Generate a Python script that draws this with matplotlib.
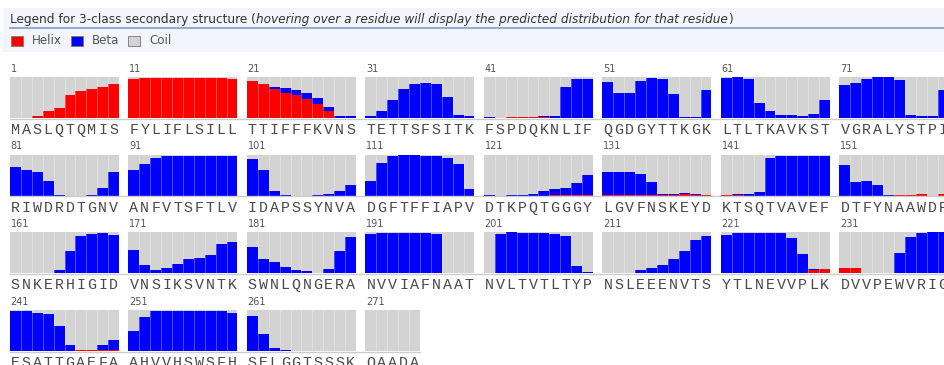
import matplotlib
matplotlib.use("Agg")
import matplotlib.pyplot as plt
from matplotlib.patches import Rectangle
from matplotlib.lines import Line2D

W, H = 945, 365

# sekwencja, 10 reszt na panel
sequence = ("MASLQTQMIS" "FYLIFLSILL" "TTIFFFKVNS" "TETTSFSITK"
            "FSPDQKNLIF" "QGDGYTTKGK" "LTLTKAVKST" "VGRALYSTPI"
            "RIWDRDTGNV" "ANFVTSFTLV" "IDAPSSYNVA" "DGFTFFIAPV"
            "DTKPQTGGGY" "LGVFNSKEYD" "KTSQTVAVEF" "DTFYNAAWDP"
            "SNKERHIGID" "VNSIKSVNTK" "SWNLQNGERA" "NVVIAFNAAT"
            "NVLTVTLTYP" "NSLEEENVTS" "YTLNEVVPLK" "DVVPEWVRIG"
            "ESATTGAEFA" "AHVVHSWSFH" "SELGGTSSSK" "QAADA")

helix = [
    0, 0.01, 0.04, 0.16, 0.24, 0.56, 0.66, 0.70, 0.75, 0.82,
    0.95, 0.97, 0.97, 0.97, 0.97, 0.97, 0.97, 0.97, 0.97, 0.95,
    0.90, 0.82, 0.70, 0.62, 0.56, 0.46, 0.34, 0.18, 0.01, 0,
    0.01, 0.01, 0.01, 0, 0, 0, 0, 0, 0, 0,
    0, 0, 0.03, 0.03, 0.02, 0.02, 0, 0, 0, 0,
    0, 0, 0, 0, 0, 0, 0, 0, 0, 0,
    0, 0, 0, 0, 0, 0, 0, 0, 0, 0,
    0, 0, 0, 0, 0, 0, 0, 0, 0, 0,
    0, 0, 0, 0, 0, 0, 0, 0, 0, 0,
    0, 0, 0, 0, 0, 0, 0, 0, 0, 0,
    0, 0, 0, 0, 0, 0, 0, 0, 0, 0,
    0, 0, 0, 0, 0, 0, 0, 0, 0, 0,
    0, 0, 0, 0, 0, 0, 0.01, 0.01, 0.02, 0.02,
    0.02, 0.02, 0.02, 0.02, 0.02, 0.02, 0.02, 0.04, 0.01, 0.01,
    0.02, 0.02, 0, 0, 0, 0, 0, 0, 0, 0,
    0, 0, 0, 0, 0, 0.02, 0.02, 0.03, 0, 0.03,
    0.02, 0.02, 0.01, 0, 0, 0, 0, 0, 0, 0,
    0, 0, 0, 0, 0, 0, 0, 0, 0, 0,
    0, 0, 0, 0.02, 0.02, 0.02, 0, 0, 0, 0,
    0, 0, 0, 0, 0, 0, 0, 0, 0, 0,
    0, 0, 0, 0, 0, 0, 0, 0, 0, 0,
    0.01, 0, 0, 0, 0, 0, 0, 0, 0, 0,
    0, 0, 0, 0, 0, 0, 0, 0, 0.08, 0.11,
    0.12, 0.12, 0, 0, 0, 0, 0, 0, 0, 0,
    0, 0, 0, 0, 0, 0, 0.03, 0.02, 0.02, 0.02,
    0, 0, 0, 0, 0, 0, 0, 0, 0, 0,
    0, 0, 0, 0, 0, 0, 0, 0, 0, 0,
    0, 0, 0, 0, 0,
]

beta = [
    0, 0, 0, 0, 0, 0, 0, 0, 0, 0,
    0, 0, 0, 0, 0, 0, 0, 0, 0, 0,
    0, 0, 0.05, 0.10, 0.13, 0.14, 0.14, 0.09, 0.03, 0.04,
    0.05, 0.17, 0.43, 0.70, 0.82, 0.85, 0.82, 0.52, 0.07, 0.04,
    0.02, 0, 0, 0, 0.01, 0.02, 0.05, 0.75, 0.95, 0.96,
    0.88, 0.60, 0.62, 0.91, 0.98, 0.94, 0.58, 0.02, 0.02, 0.68,
    0.97, 0.99, 0.96, 0.37, 0.16, 0.07, 0.07, 0.06, 0.10, 0.45,
    0.80, 0.86, 0.95, 0.99, 0.99, 0.93, 0.07, 0.04, 0.06, 0.69,
    0.70, 0.63, 0.58, 0.35, 0.02, 0, 0, 0.01, 0.18, 0.58,
    0.63, 0.78, 0.92, 0.98, 0.98, 0.98, 0.98, 0.98, 0.98, 0.98,
    0.89, 0.63, 0.12, 0.02, 0, 0, 0.01, 0.05, 0.12, 0.27,
    0.35, 0.80, 0.98, 0.99, 0.99, 0.98, 0.96, 0.92, 0.77, 0.17,
    0.02, 0, 0.02, 0.02, 0.04, 0.11, 0.15, 0.17, 0.28, 0.48,
    0.55, 0.57, 0.57, 0.52, 0.31, 0.03, 0.03, 0.02, 0.03, 0.01,
    0, 0.01, 0.03, 0.09, 0.92, 0.98, 0.98, 0.98, 0.98, 0.96,
    0.75, 0.33, 0.35, 0.27, 0.02, 0, 0, 0, 0, 0,
    0, 0, 0.01, 0.02, 0.08, 0.55, 0.91, 0.95, 0.98, 0.93,
    0.58, 0.20, 0.08, 0.13, 0.22, 0.35, 0.38, 0.46, 0.71, 0.76,
    0.64, 0.35, 0.28, 0.14, 0.06, 0.03, 0.02, 0.11, 0.54, 0.88,
    0.95, 0.98, 0.98, 0.98, 0.98, 0.99, 0.95, 0, 0, 0.01,
    0.01, 0.95, 1.0, 0.99, 0.99, 0.98, 0.96, 0.90, 0.19, 0.04,
    0, 0.01, 0.02, 0.08, 0.14, 0.20, 0.36, 0.54, 0.82, 0.90,
    0.94, 0.98, 0.98, 0.98, 0.98, 0.98, 0.86, 0.47, 0.02, 0,
    0, 0, 0.02, 0, 0.01, 0.50, 0.88, 0.98, 1.0, 1.0,
    0.98, 0.97, 0.94, 0.90, 0.62, 0.16, 0, 0, 0.14, 0.26,
    0.50, 0.84, 0.98, 0.98, 0.98, 0.98, 0.98, 0.98, 0.98, 0.94,
    0.86, 0.42, 0.08, 0.02, 0, 0, 0, 0, 0, 0,
    0, 0, 0, 0, 0,
]

legend_labels = ["Helix", "Beta", "Coil"]
colors = ["#ff0000", "#0000ff", "#d3d3d3"]


def fx(x):
    return x / W


def fy(y):
    return 1 - y / H


fig = plt.figure(figsize=(W / 100, H / 100), dpi=100)
fig.patch.set_facecolor("white")

# naglowek z legenda
fig.add_artist(Rectangle((fx(3), fy(52)), fx(945) - fx(3), 44 / H,
                         transform=fig.transFigure, facecolor="#f4f5fc",
                         edgecolor="none", zorder=0))
fig.add_artist(Line2D([fx(10), fx(945)], [fy(28), fy(28)],
                      transform=fig.transFigure, color="#7f9fc4", lw=1.2))

renderer = fig.canvas.get_renderer()
x = 10
for txt, style in [("Legend for 3-class secondary structure (", "normal"),
                   ("hovering over a residue will display the predicted "
                    "distribution for that residue", "italic"),
                   (")", "normal")]:
    t = fig.text(fx(x), fy(19.5), txt, fontsize=8.7, style=style,
                 family="DejaVu Sans", color="#333333", va="center")
    x = t.get_window_extent(renderer).x1

box_x = [11, 71, 128]
for bx, lab, col in zip(box_x, legend_labels, colors):
    fig.add_artist(Rectangle((fx(bx), fy(46)), 12 / W, 10 / H,
                             transform=fig.transFigure, facecolor=col,
                             edgecolor="#777777", lw=0.6))
    fig.text(fx(bx + 21), fy(40.5), lab, fontsize=8.6, family="DejaVu Sans",
             color="#555555", va="center")

# panele po 10 reszt
bar_px = 10.9
rows_end = {}
for k in range(0, len(sequence), 10):
    seg = sequence[k:k + 10]
    n = len(seg)
    row, col = divmod(k // 10, 8)
    left = 10 + col * 118.5
    top = 77 + row * 77.7
    ax = fig.add_axes([fx(left), fy(top + 41), n * bar_px / W, 41 / H])
    idx = list(range(n))
    h = helix[k:k + n]
    b = beta[k:k + n]
    hb = [p + q for p, q in zip(h, b)]
    c = [1 - v for v in hb]
    ax.bar(idx, h, width=1, color=colors[0], lw=0)
    ax.bar(idx, b, bottom=h, width=1, color=colors[1], lw=0)
    ax.bar(idx, c, bottom=hb, width=1, color=colors[2], lw=0)
    ax.vlines([i + 0.5 for i in idx[:-1]], 0, 1, color="white", alpha=0.3,
              lw=0.7)
    ax.set_xlim(-0.5, n - 0.5)
    ax.set_ylim(0, 1)
    ax.axis("off")
    for i, ch in enumerate(seg):
        ax.text(i, -0.29, ch, ha="center", va="center", fontsize=10.8,
                family="Liberation Mono", color="#4a4a4a", clip_on=False)
    fig.text(fx(left + 0.5), fy(top - 8.5), str(k + 1), fontsize=7,
             family="DejaVu Sans", color="#555555", va="center")
    rows_end[row] = (top + 41, left + n * bar_px)

for row, (yb, xe) in rows_end.items():
    fig.add_artist(Line2D([fx(10), fx(xe)], [fy(yb + 0.6)] * 2,
                          transform=fig.transFigure, color="#cccccc", lw=1))

fig.savefig("out.png", dpi=100)
